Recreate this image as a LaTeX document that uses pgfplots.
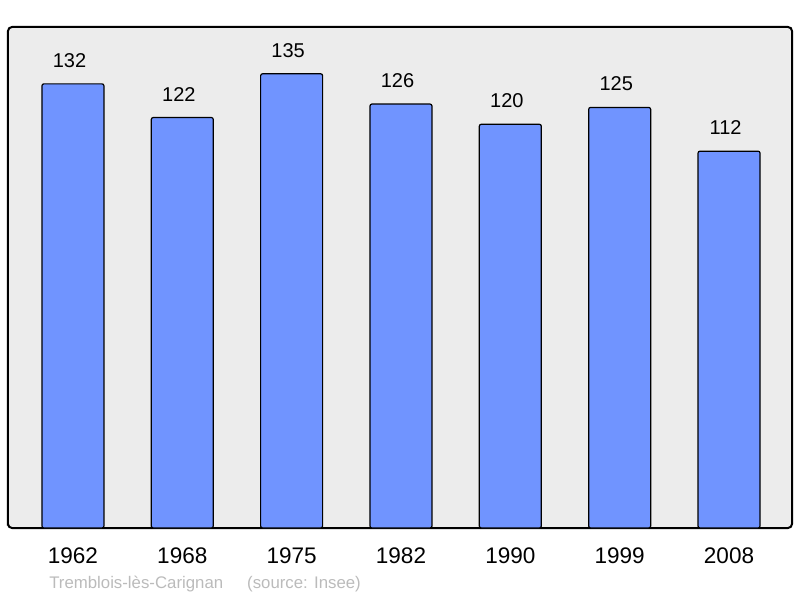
\documentclass[border=0pt]{standalone}
\usepackage{fontspec}
\setmainfont{Liberation Sans}
\usepackage{pgfplots}
\pgfplotsset{compat=1.18}
\definecolor{barblue}{HTML}{7094FF}
\definecolor{bggray}{HTML}{ECECEC}
\definecolor{srcgray}{HTML}{BBBBBB}
\begin{document}
\begin{tikzpicture}
\begin{axis}[
  scale only axis, width=588pt, height=375.75pt,
  xmin=-0.594, xmax=6.576, ymin=0, ymax=148.9,
  axis background/.style={fill=bggray},
  axis line style={line width=1.5pt, rounded corners=3pt},
  xtick=data, xticklabels={1962,1968,1975,1982,1990,1999,2008},
  ytick=\empty, major tick length=0pt,
  x tick label style={font=\fontsize{16.9}{18}\selectfont, yshift=-11.5pt},
  /pgf/number format/assume math mode=true,
  ybar, bar width=0.567,
  nodes near coords,
  every node near coord/.append style={font=\fontsize{15}{16}\selectfont, yshift=8.5pt, xshift=-2.6pt, text=black},
  clip=false,
]
\addplot[fill=barblue, draw=black, line width=0.9pt, rounded corners=1.5pt] coordinates {
(0,132) (1,122) (2,135) (3,126) (4,120) (5,125) (6,112)
};
\node[anchor=west, inner sep=0pt, text=srcgray, font=\fontsize{12.6}{14}\selectfont] at (rel axis cs:0.0523,-0.1118) {Tremblois-lès-Carignan\hspace{18pt}(source: Insee)};
\path[use as bounding box] (rel axis cs:-0.0102,-0.1397) rectangle (rel axis cs:1.0102,1.0539);
\end{axis}
\end{tikzpicture}
\end{document}
